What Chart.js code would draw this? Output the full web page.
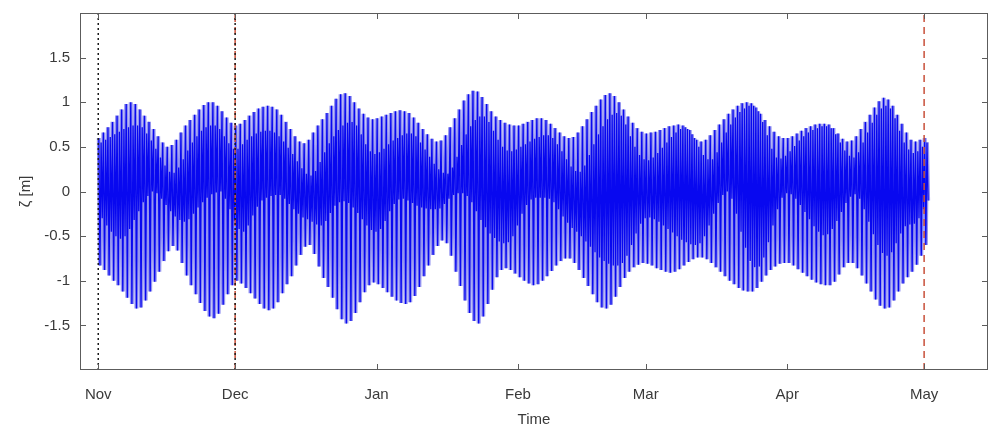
<!DOCTYPE html>
<html>
<head>
<meta charset="utf-8">
<title>Tidal elevation</title>
<script src="https://cdn.jsdelivr.net/npm/chart.js@4.4.1/dist/chart.umd.min.js"></script>
<style>
  html, body { margin: 0; padding: 0; background: #fff; }
  #wrap { width: 989px; height: 427px; position: relative; }
</style>
</head>
<body>
<div id="wrap"><canvas id="tide-chart"></canvas></div>
<script>
// daily tidal extremes [m], one value per day from Nov 1 to May 1
// (higher high, lower low, lower high, higher low water)
const highHigh = [
  0.60, 0.66, 0.72, 0.78, 0.85, 0.92, 0.98, 1.00, 0.98, 0.92,
  0.85, 0.78, 0.70, 0.62, 0.55, 0.50, 0.52, 0.58, 0.66, 0.74,
  0.80, 0.86, 0.92, 0.97, 1.00, 1.00, 0.96, 0.90, 0.83, 0.77,
  0.74, 0.76, 0.80, 0.85, 0.89, 0.93, 0.95, 0.96, 0.95, 0.92,
  0.86, 0.78, 0.70, 0.62, 0.56, 0.54, 0.58, 0.66, 0.74, 0.81,
  0.88, 0.96, 1.04, 1.09, 1.10, 1.07, 1.00, 0.93, 0.87, 0.83,
  0.81, 0.82, 0.84, 0.86, 0.88, 0.90, 0.91, 0.90, 0.88, 0.83,
  0.77, 0.70, 0.64, 0.59, 0.56, 0.57, 0.63, 0.72, 0.82, 0.92,
  1.02, 1.09, 1.13, 1.12, 1.06, 0.98, 0.90, 0.84, 0.80, 0.77,
  0.75, 0.74, 0.74, 0.76, 0.78, 0.80, 0.82, 0.82, 0.80, 0.76,
  0.71, 0.66, 0.62, 0.60, 0.61, 0.66, 0.73, 0.81, 0.89, 0.96,
  1.03, 1.08, 1.10, 1.07, 1.00, 0.92, 0.84, 0.77, 0.71, 0.67,
  0.65, 0.66, 0.67, 0.69, 0.71, 0.73, 0.74, 0.75, 0.74, 0.70,
  0.64, 0.58, 0.56, 0.58, 0.63, 0.69, 0.75, 0.81, 0.87, 0.92,
  0.96, 0.99, 1.00, 0.99, 0.94, 0.87, 0.80, 0.73, 0.67, 0.62,
  0.60, 0.60, 0.62, 0.65, 0.68, 0.71, 0.73, 0.75, 0.76, 0.76,
  0.75, 0.71, 0.65, 0.59, 0.56, 0.57, 0.62, 0.70, 0.78, 0.86,
  0.94, 1.01, 1.05, 1.03, 0.96, 0.86, 0.76, 0.66, 0.58, 0.56,
  0.58, 0.60
];
const lowLow = [
  -0.83, -0.88, -0.94, -1.00, -1.05, -1.12, -1.19, -1.26, -1.31, -1.30,
  -1.22, -1.12, -1.01, -0.90, -0.78, -0.67, -0.61, -0.66, -0.80, -0.94,
  -1.05, -1.15, -1.25, -1.34, -1.40, -1.42, -1.37, -1.27, -1.15, -1.05,
  -1.00, -1.03, -1.08, -1.14, -1.20, -1.26, -1.31, -1.33, -1.31, -1.24,
  -1.14, -1.04, -0.95, -0.83, -0.71, -0.62, -0.60, -0.70, -0.84, -0.97,
  -1.07, -1.19, -1.32, -1.43, -1.48, -1.45, -1.36, -1.24, -1.13, -1.05,
  -1.02, -1.04, -1.08, -1.13, -1.18, -1.22, -1.25, -1.26, -1.24, -1.17,
  -1.07, -0.95, -0.83, -0.71, -0.61, -0.55, -0.58, -0.72, -0.90, -1.06,
  -1.22, -1.36, -1.45, -1.48, -1.40, -1.26, -1.10, -0.96, -0.88, -0.86,
  -0.88, -0.92, -0.96, -1.00, -1.03, -1.05, -1.04, -1.00, -0.95, -0.89,
  -0.83, -0.78, -0.75, -0.75, -0.80, -0.88, -0.97, -1.06, -1.15, -1.24,
  -1.30, -1.31, -1.27, -1.18, -1.07, -0.97, -0.90, -0.85, -0.82, -0.80,
  -0.81, -0.83, -0.86, -0.88, -0.90, -0.91, -0.90, -0.87, -0.83, -0.79,
  -0.76, -0.74, -0.74, -0.76, -0.80, -0.85, -0.90, -0.95, -1.00, -1.04,
  -1.08, -1.11, -1.12, -1.12, -1.08, -1.01, -0.94, -0.88, -0.84, -0.81,
  -0.80, -0.80, -0.83, -0.87, -0.91, -0.95, -0.99, -1.02, -1.04, -1.05,
  -1.05, -1.01, -0.93, -0.85, -0.80, -0.80, -0.86, -0.94, -1.03, -1.12,
  -1.21, -1.28, -1.31, -1.30, -1.22, -1.12, -1.03, -0.96, -0.90, -0.82,
  -0.72, -0.60
];
const lowHigh = [
  0.55, 0.58, 0.61, 0.64, 0.67, 0.70, 0.72, 0.74, 0.74, 0.72,
  0.65, 0.57, 0.48, 0.38, 0.29, 0.22, 0.21, 0.27, 0.36, 0.46,
  0.55, 0.62, 0.68, 0.72, 0.74, 0.74, 0.70, 0.62, 0.54, 0.48,
  0.48, 0.53, 0.58, 0.62, 0.65, 0.67, 0.68, 0.68, 0.66, 0.62,
  0.56, 0.49, 0.42, 0.34, 0.26, 0.20, 0.18, 0.23, 0.33, 0.44,
  0.54, 0.62, 0.69, 0.74, 0.77, 0.78, 0.74, 0.64, 0.53, 0.45,
  0.42, 0.44, 0.48, 0.53, 0.57, 0.60, 0.63, 0.65, 0.65, 0.62,
  0.55, 0.47, 0.39, 0.31, 0.25, 0.21, 0.20, 0.27, 0.39, 0.52,
  0.64, 0.73, 0.80, 0.84, 0.84, 0.78, 0.68, 0.58, 0.50, 0.46,
  0.45, 0.47, 0.50, 0.53, 0.56, 0.59, 0.61, 0.63, 0.63, 0.60,
  0.53, 0.45, 0.36, 0.28, 0.23, 0.22, 0.29, 0.41, 0.53, 0.64,
  0.73, 0.81, 0.86, 0.88, 0.85, 0.75, 0.62, 0.50, 0.41, 0.36,
  0.35, 0.38, 0.43, 0.49, 0.55, 0.61, 0.66, 0.70, 0.72, 0.69,
  0.60, 0.50, 0.41, 0.36, 0.36, 0.44, 0.55, 0.66, 0.75, 0.83,
  0.89, 0.93, 0.96, 0.96, 0.90, 0.78, 0.63, 0.48, 0.38, 0.37,
  0.40, 0.45, 0.51, 0.57, 0.62, 0.66, 0.69, 0.71, 0.73, 0.73,
  0.71, 0.64, 0.55, 0.46, 0.40, 0.38, 0.44, 0.55, 0.66, 0.77,
  0.86, 0.93, 0.96, 0.93, 0.82, 0.68, 0.55, 0.47, 0.43, 0.45,
  0.50, 0.55
];
const highLow = [
  -0.30, -0.38, -0.45, -0.50, -0.53, -0.50, -0.42, -0.32, -0.22, -0.12,
  -0.05, 0.00, -0.02, -0.08, -0.15, -0.22, -0.28, -0.32, -0.34, -0.31,
  -0.25, -0.18, -0.12, -0.07, -0.03, -0.01, 0.00, -0.08, -0.20, -0.33,
  -0.42, -0.45, -0.38, -0.27, -0.17, -0.10, -0.07, -0.05, -0.04, -0.04,
  -0.08, -0.14, -0.20, -0.25, -0.29, -0.31, -0.34, -0.37, -0.38, -0.33,
  -0.24, -0.16, -0.12, -0.11, -0.13, -0.18, -0.24, -0.31, -0.38, -0.43,
  -0.45, -0.42, -0.33, -0.22, -0.14, -0.09, -0.08, -0.10, -0.13, -0.16,
  -0.18, -0.19, -0.20, -0.20, -0.19, -0.14, -0.08, -0.04, -0.02, -0.02,
  -0.05, -0.12, -0.22, -0.32, -0.40, -0.47, -0.52, -0.56, -0.58, -0.57,
  -0.50, -0.38, -0.25, -0.15, -0.09, -0.07, -0.07, -0.07, -0.08, -0.12,
  -0.20, -0.28, -0.35, -0.41, -0.45, -0.50, -0.56, -0.62, -0.68, -0.74,
  -0.78, -0.81, -0.83, -0.83, -0.80, -0.72, -0.60, -0.47, -0.36, -0.30,
  -0.29, -0.31, -0.34, -0.38, -0.42, -0.46, -0.50, -0.54, -0.57, -0.59,
  -0.60, -0.58, -0.50, -0.38, -0.25, -0.13, -0.04, 0.00, -0.08, -0.25,
  -0.45, -0.63, -0.78, -0.85, -0.84, -0.74, -0.57, -0.38, -0.20, -0.07,
  -0.02, -0.03, -0.08, -0.15, -0.23, -0.31, -0.39, -0.45, -0.49, -0.48,
  -0.42, -0.33, -0.23, -0.13, -0.06, -0.03, -0.08, -0.20, -0.34, -0.48,
  -0.60, -0.69, -0.72, -0.68, -0.58, -0.47, -0.39, -0.37, -0.36, -0.30,
  -0.20, -0.10
];

// x axis: days counted from Nov 1
const monthDays = [0, 30, 61, 92, 120, 151, 181];
const monthLabels = ['Nov', 'Dec', 'Jan', 'Feb', 'Mar', 'Apr', 'May'];
const yTicks = [-1.5, -1, -0.5, 0, 0.5, 1, 1.5];
const yTickLabels = ['-1.5', '-1', '-0.5', '0', '0.5', '1', '1.5'];

// period markers (day numbers)
const trainStart = 0;
const trainEnd = 30;
const forecastEnd = 181;

// turn the daily extremes into one time series, four turning points a day
const series = [];
highHigh.forEach((hh, d) => {
    series.push({ x: d + 0.125, y: hh });
    series.push({ x: d + 0.375, y: lowLow[d] });
    series.push({ x: d + 0.625, y: lowHigh[d] });
    series.push({ x: d + 0.875, y: highLow[d] });
});

const vline = (day) => [{ x: day, y: -2 }, { x: day, y: 2 }];

const fontFamily = '"Liberation Sans", Arial, Helvetica, sans-serif';
const textColor = '#3a3a3a';

const frame = {
    id: 'frame',
    afterDatasetsDraw(chart) {
        const { ctx, chartArea: a, scales } = chart;
        const x = scales.x, y = scales.y;
        ctx.save();
        ctx.strokeStyle = '#5c5c5c';
        ctx.lineWidth = 1;
        ctx.strokeRect(a.left + 0.5, a.top + 0.5, a.width - 1, a.height - 1);
        ctx.beginPath();
        monthDays.forEach(d => {
            const px = Math.round(x.getPixelForValue(d)) + 0.5;
            ctx.moveTo(px, a.bottom); ctx.lineTo(px, a.bottom - 6);
            ctx.moveTo(px, a.top); ctx.lineTo(px, a.top + 6);
        });
        yTicks.forEach(v => {
            const py = Math.round(y.getPixelForValue(v)) + 0.5;
            ctx.moveTo(a.left, py); ctx.lineTo(a.left + 6, py);
            ctx.moveTo(a.right, py); ctx.lineTo(a.right - 6, py);
        });
        ctx.stroke();

        ctx.fillStyle = textColor;
        ctx.font = '15px ' + fontFamily;
        ctx.textAlign = 'center';
        ctx.textBaseline = 'middle';
        ctx.fillText('Time', (a.left + a.right) / 2, 420);
        ctx.translate(26, (a.top + a.bottom) / 2);
        ctx.rotate(-Math.PI / 2);
        ctx.fillText('ζ [m]', 0, 0);
        ctx.restore();
    }
};

const ctx = document.getElementById('tide-chart').getContext('2d');
const tideChart = new Chart(ctx, {
    type: 'line',
    data: {
        datasets: [
            {
                // soft halo under the trace, like the blurred original
                label: 'elevation halo',
                data: series,
                borderColor: '#9494f0',
                borderWidth: 4,
                pointRadius: 0,
                tension: 0,
                order: 4
            },
            {
                label: 'elevation',
                data: series,
                borderColor: '#0808f0',
                borderWidth: 1.3,
                pointRadius: 0,
                tension: 0,
                order: 3
            },
            {
                label: 'start',
                data: vline(trainStart),
                borderColor: '#1a1a1a',
                borderWidth: 1.5,
                borderDash: [2, 3],
                pointRadius: 0,
                order: 1
            },
            {
                label: 'split',
                data: vline(trainEnd),
                borderColor: '#1a1a1a',
                borderWidth: 1.5,
                borderDash: [2, 3],
                pointRadius: 0,
                order: 1
            },
            {
                label: 'split forecast',
                data: vline(trainEnd),
                borderColor: '#c8503a',
                borderWidth: 1.5,
                borderDash: [7, 5],
                pointRadius: 0,
                order: 2
            },
            {
                label: 'end',
                data: vline(forecastEnd),
                borderColor: '#c8503a',
                borderWidth: 1.5,
                borderDash: [7, 5],
                pointRadius: 0,
                order: 1
            }
        ]
    },
    options: {
        responsive: true,
        maintainAspectRatio: false,
        animation: false,
        events: [],
        layout: { padding: { top: 13, right: 1, left: 0, bottom: 0 } },
        plugins: {
            legend: { display: false },
            tooltip: { enabled: false }
        },
        scales: {
            x: {
                type: 'linear',
                min: -4,
                max: 195,
                grid: { display: false, drawTicks: false },
                border: { display: false },
                afterBuildTicks: (scale) => {
                    scale.ticks = monthDays.map(v => ({ value: v }));
                },
                afterFit: (scale) => {
                    scale.height = 57;
                    scale.paddingLeft = 0;
                    scale.paddingRight = 0;
                },
                ticks: {
                    autoSkip: false,
                    maxRotation: 0,
                    padding: 16,
                    color: textColor,
                    font: { size: 15, family: fontFamily },
                    callback: (v, i) => monthLabels[i]
                }
            },
            y: {
                min: -2,
                max: 2,
                grid: { display: false, drawTicks: false },
                border: { display: false },
                afterBuildTicks: (scale) => {
                    scale.ticks = yTicks.map(v => ({ value: v }));
                },
                afterFit: (scale) => {
                    scale.width = 80;
                    scale.paddingTop = 0;
                    scale.paddingBottom = 0;
                },
                ticks: {
                    padding: 10,
                    color: textColor,
                    font: { size: 15, family: fontFamily },
                    callback: (v, i) => yTickLabels[i]
                }
            }
        }
    },
    plugins: [frame]
});
</script>
</body>
</html>
